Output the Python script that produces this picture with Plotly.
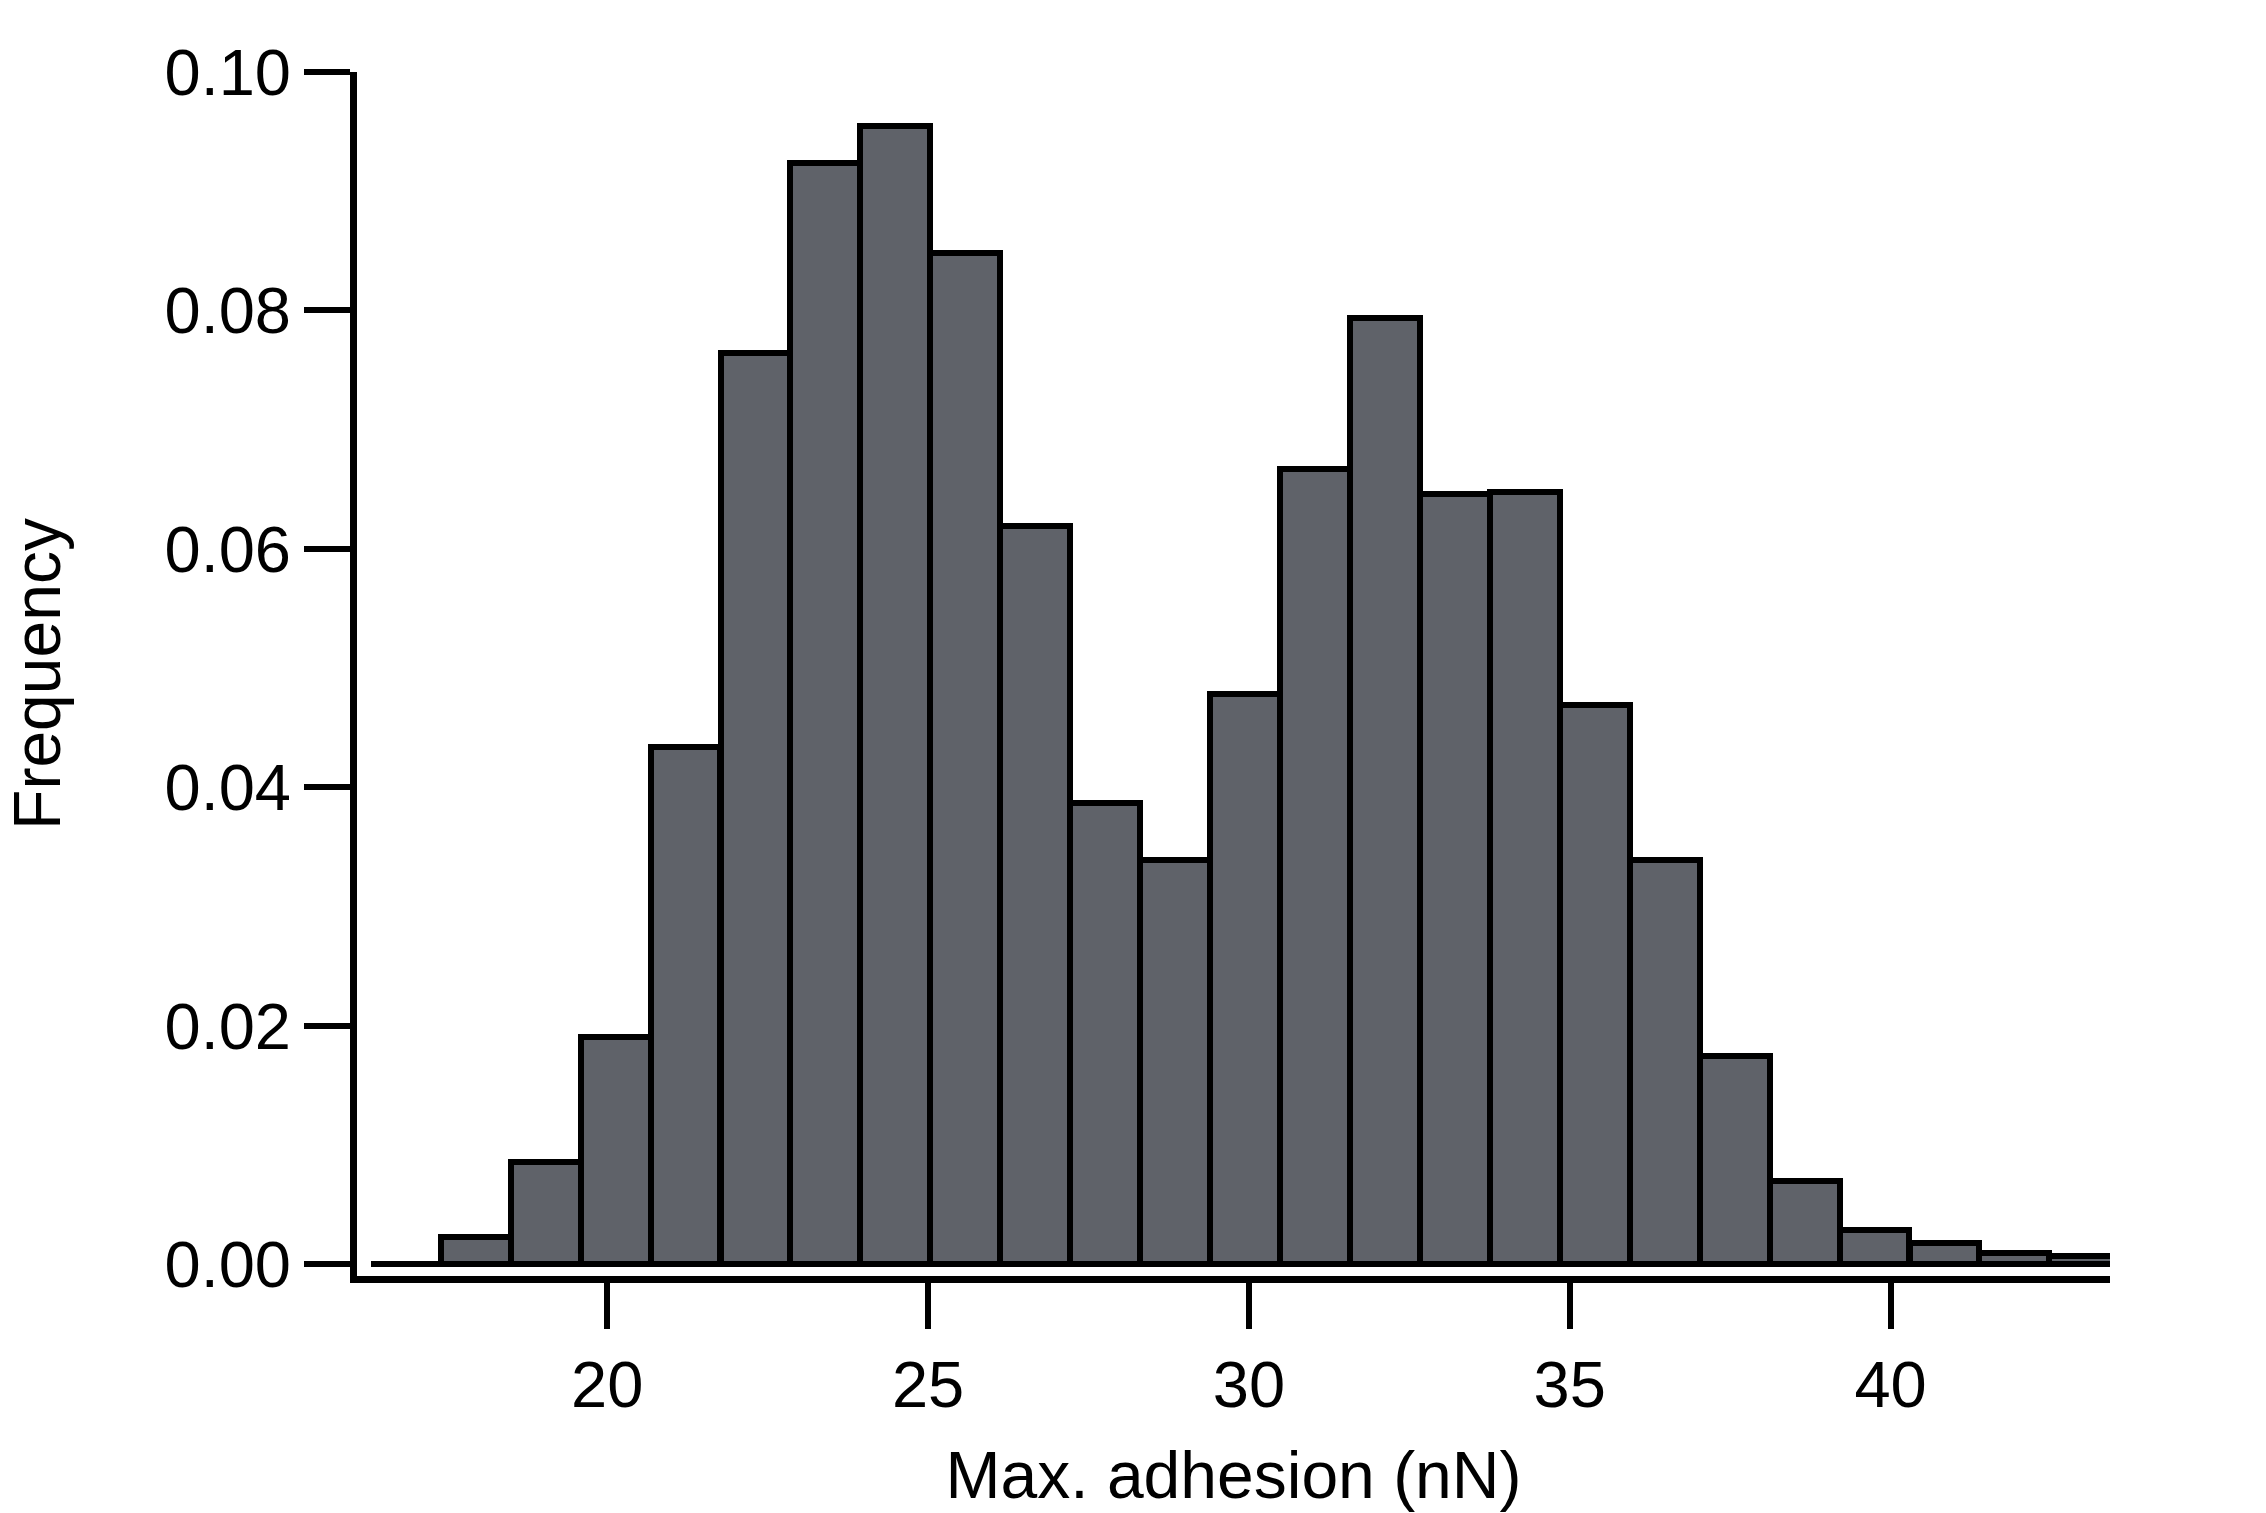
import plotly.graph_objects as go

# Histogram data
bin_centers = [16.86, 17.95, 19.04, 20.13, 21.22, 22.31, 23.40, 24.49, 25.58, 26.67,
               27.76, 28.85, 29.94, 31.03, 32.12, 33.21, 34.30, 35.39, 36.48, 37.57,
               38.66, 39.75, 40.84, 41.93, 43.02]
bin_width = 1.089
frequency = [0.0, 0.0023, 0.0086, 0.0191, 0.0434, 0.0764, 0.0924, 0.0955, 0.0848, 0.0619,
             0.0387, 0.0339, 0.0478, 0.0667, 0.0794, 0.0646, 0.0648, 0.0469, 0.0339, 0.0175,
             0.0070, 0.0029, 0.0018, 0.0010, 0.0007]

x_ticks = [20, 25, 30, 35, 40]
y_ticks = [0.00, 0.02, 0.04, 0.06, 0.08, 0.10]

FONT = "Liberation Sans, Arial, sans-serif"

fig = go.Figure()
fig.add_trace(go.Bar(
    x=bin_centers, y=frequency, width=bin_width,
    marker=dict(color="#5f6269", line=dict(color="#000000", width=6)),
    showlegend=False,
))

fig.update_layout(
    width=2266, height=1513,
    margin=dict(l=357, r=156, t=72, b=234),
    paper_bgcolor="white", plot_bgcolor="white",
    font=dict(family=FONT, size=64, color="black"),
    bargap=0,
)
fig.update_xaxes(
    range=[16.10, 43.42], tickvals=x_ticks, ticktext=[str(v) for v in x_ticks],
    showgrid=False, zeroline=False,
    showline=True, linecolor="black", linewidth=7,
    ticks="outside", ticklen=46, tickwidth=6, tickcolor="black",
    tickfont=dict(size=65),
    title=dict(text="Max. adhesion (nN)", font=dict(size=66), standoff=34),
)
fig.update_yaxes(
    range=[-0.00097, 0.1], tickvals=y_ticks, ticktext=[f"{v:.2f}" for v in y_ticks],
    showgrid=False, zeroline=False,
    showline=True, linecolor="black", linewidth=7,
    ticks="outside", ticklen=46, tickwidth=6, tickcolor="black",
    tickfont=dict(size=65),
    title=dict(text="Frequency", font=dict(size=66), standoff=88),
)

fig.write_html("out.html")
